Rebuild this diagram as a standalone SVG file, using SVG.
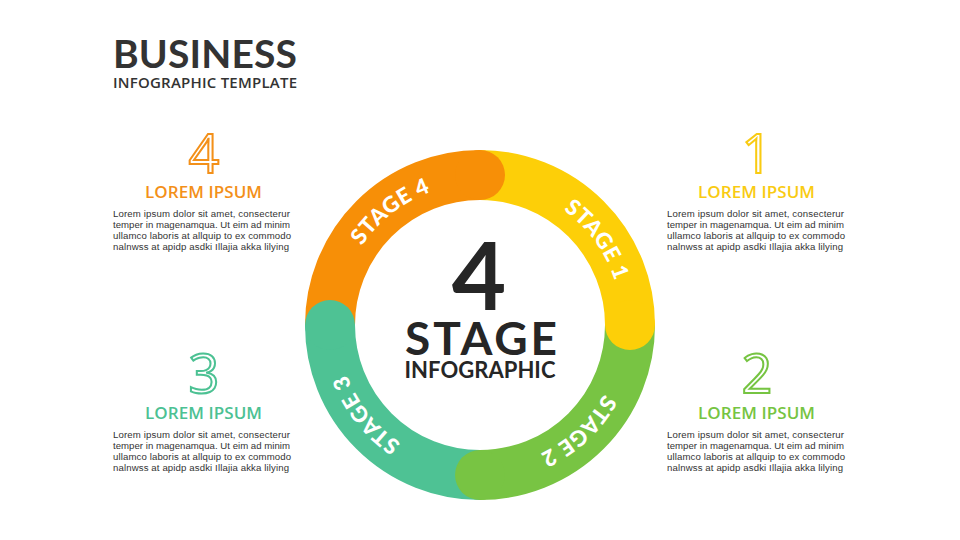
<svg xmlns="http://www.w3.org/2000/svg" xmlns:xlink="http://www.w3.org/1999/xlink" width="960" height="540" viewBox="0 0 960 540">
<defs>
<style>
.title{font-family:Lato,"Liberation Sans",sans-serif;font-weight:700;fill:#333333}
.ring{fill:none;stroke-width:50}
.lbl{font-family:Lato,"Open Sans",sans-serif;font-weight:900;font-size:22px;fill:#ffffff;letter-spacing:0.6px}
.num{font-family:"Open Sans","Liberation Sans",sans-serif;font-weight:400;font-size:54px;fill:none;stroke-width:2;text-anchor:middle}
.head{font-family:"Open Sans","Liberation Sans",sans-serif;font-weight:600;font-size:17px;text-anchor:middle}
.para{font-family:"Liberation Sans",Arial,sans-serif;font-weight:400;font-size:9.6px;fill:#333333}
.ctr{font-family:Lato,"Liberation Sans",sans-serif;font-weight:700;fill:#262626;text-anchor:middle}
</style>
<path id="circ" d="M480 183 A142 142 0 1 1 480 467 A142 142 0 1 1 480 183"/>
</defs>
<rect width="960" height="540" fill="#ffffff"/>

<g id="title">
<text class="title" x="113" y="68" font-size="39" textLength="184">BUSINESS</text>
<text x="113" y="88" font-family="'Open Sans','Liberation Sans',sans-serif" font-weight="600" font-size="15" fill="#333333" textLength="184">INFOGRAPHIC TEMPLATE</text>
</g>

<g id="ring">
<path class="ring" stroke="#F78F07" d="M330 325 A150 150 0 0 1 480 175"/>
<path class="ring" stroke="#FDCF08" d="M480 175 A150 150 0 0 1 630 325"/>
<path class="ring" stroke="#78C443" d="M630 325 A150 150 0 0 1 480 475"/>
<path class="ring" stroke="#4EC294" d="M480 475 A150 150 0 0 1 330 325"/>
<circle cx="480" cy="175" r="25" fill="#F78F07"/>
<circle cx="630" cy="325" r="25" fill="#FDCF08"/>
<circle cx="480" cy="475" r="25" fill="#78C443"/>
<circle cx="330" cy="325" r="25" fill="#4EC294"/>
<text class="lbl"><textPath xlink:href="#circ" href="#circ" startOffset="15%" text-anchor="middle">STAGE 1</textPath></text>
<text class="lbl"><textPath xlink:href="#circ" href="#circ" startOffset="38.1%" text-anchor="middle">STAGE 2</textPath></text>
<text class="lbl"><textPath xlink:href="#circ" href="#circ" startOffset="64.4%" text-anchor="middle">STAGE 3</textPath></text>
<text class="lbl"><textPath xlink:href="#circ" href="#circ" startOffset="89.4%" text-anchor="middle">STAGE 4</textPath></text>
</g>

<g id="center">
<text class="ctr" x="479" y="310" font-size="94" font-weight="900">4</text>
<text class="ctr" x="481" y="355" font-size="46" textLength="152">STAGE</text>
<text class="ctr" x="480" y="378" font-size="22" textLength="151">INFOGRAPHIC</text>
</g>

<g id="step4">
<text class="num" x="204" y="173" stroke="#F39019">4</text>
<text class="head" x="203.5" y="198" fill="#F39019" textLength="117">LOREM IPSUM</text>
<text class="para" x="113" y="216.5" textLength="177">Lorem ipsum dolor sit amet, consecterur</text>
<text class="para" x="113" y="227.5" textLength="177">temper in magenamqua. Ut eim ad minim</text>
<text class="para" x="113" y="238.5" textLength="178">ullamco laboris at allquip to ex commodo</text>
<text class="para" x="113" y="249.5" textLength="176">nalnwss at apidp asdki Illajia akka lilying</text>
</g>

<g id="step1">
<text class="num" x="757" y="173" stroke="#F9CB12">1</text>
<text class="head" x="756.5" y="198" fill="#F9CB12" textLength="117">LOREM IPSUM</text>
<text class="para" x="667" y="216.5" textLength="177">Lorem ipsum dolor sit amet, consecterur</text>
<text class="para" x="667" y="227.5" textLength="177">temper in magenamqua. Ut eim ad minim</text>
<text class="para" x="667" y="238.5" textLength="178">ullamco laboris at allquip to ex commodo</text>
<text class="para" x="667" y="249.5" textLength="176">nalnwss at apidp asdki Illajia akka lilying</text>
</g>

<g id="step3">
<text class="num" x="204" y="393" stroke="#4CC193">3</text>
<text class="head" x="203.5" y="419" fill="#4CC193" textLength="117">LOREM IPSUM</text>
<text class="para" x="113" y="437.5" textLength="177">Lorem ipsum dolor sit amet, consecterur</text>
<text class="para" x="113" y="448.5" textLength="177">temper in magenamqua. Ut eim ad minim</text>
<text class="para" x="113" y="459.5" textLength="178">ullamco laboris at allquip to ex commodo</text>
<text class="para" x="113" y="470.5" textLength="176">nalnwss at apidp asdki Illajia akka lilying</text>
</g>

<g id="step2">
<text class="num" x="757" y="393" stroke="#76C442">2</text>
<text class="head" x="756.5" y="419" fill="#76C442" textLength="117">LOREM IPSUM</text>
<text class="para" x="667" y="437.5" textLength="177">Lorem ipsum dolor sit amet, consecterur</text>
<text class="para" x="667" y="448.5" textLength="177">temper in magenamqua. Ut eim ad minim</text>
<text class="para" x="667" y="459.5" textLength="178">ullamco laboris at allquip to ex commodo</text>
<text class="para" x="667" y="470.5" textLength="176">nalnwss at apidp asdki Illajia akka lilying</text>
</g>
</svg>
